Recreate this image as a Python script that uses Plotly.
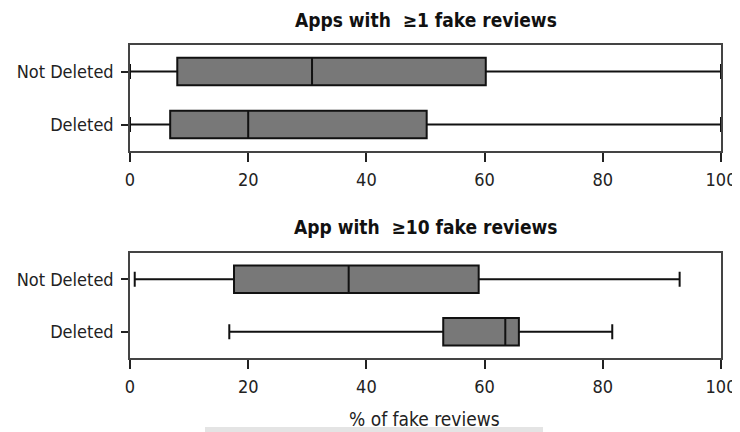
import plotly.graph_objects as go

categories = ["Not Deleted", "Deleted"]

# Panel 1: apps with >=1 fake reviews (percent of fake reviews)
p1_lower = [0, 0]
p1_q1 = [8, 6.8]
p1_median = [30.8, 20]
p1_q3 = [60.2, 50.2]
p1_upper = [100, 100]

# Panel 2: apps with >=10 fake reviews
p2_lower = [0.8, 16.8]
p2_q1 = [17.6, 53]
p2_median = [37, 63.5]
p2_q3 = [59, 65.8]
p2_upper = [93, 81.6]

x_ticks = [0, 20, 40, 60, 80, 100]

titles = ["Apps with  \u22651 fake reviews", "App with  \u226510 fake reviews"]
x_title = "% of fake reviews"

FONT = "DejaVu Sans Condensed, Liberation Sans Narrow, DejaVu Sans"
fill = "#787878"

fig = go.Figure()

def add_panel(lower, q1, med, q3, upper, xa, ya):
    fig.add_trace(go.Box(
        y=categories, lowerfence=lower, q1=q1, median=med, q3=q3, upperfence=upper,
        orientation="h", fillcolor=fill, line=dict(color="#111111", width=2),
        width=0.52, whiskerwidth=0.55, boxpoints=False, showlegend=False,
        xaxis=xa, yaxis=ya, hoverinfo="skip"))

add_panel(p1_lower, p1_q1, p1_median, p1_q3, p1_upper, "x", "y")
add_panel(p2_lower, p2_q1, p2_median, p2_q3, p2_upper, "x2", "y2")

# page has an 8px body margin, so figure coords = screen coords - 8
OFF = 8
H = 432.0
def py(screen_y):
    return 1 - (screen_y - OFF) / H

ax_common = dict(range=[0, 100], tickvals=x_ticks, ticks="outside", ticklen=9,
                 tickwidth=1.5, tickcolor="#222", showline=True, mirror=True,
                 linecolor="#444", linewidth=1.5, showgrid=False, zeroline=False,
                 ticklabelstandoff=3,
                 tickfont=dict(family=FONT, size=18, color="#222"), automargin=False)
ay_common = dict(type="category", categoryorder="array", categoryarray=categories[::-1],
                 range=[-0.5, 1.5], ticks="outside", ticklen=7, tickwidth=1.5,
                 tickcolor="#222", showline=True, mirror=True, linecolor="#444",
                 linewidth=1.5, showgrid=False, zeroline=False,
                 ticklabelstandoff=4,
                 tickfont=dict(family=FONT, size=18, color="#222"), automargin=False)

L, R = 130 - OFF, 740 + OFF - 721
fig.update_layout(
    width=740, height=432,
    margin=dict(l=L, r=R, t=0, b=0),
    plot_bgcolor="white", paper_bgcolor="white",
    xaxis=dict(ax_common, domain=[0, 1], anchor="y"),
    yaxis=dict(ay_common, domain=[py(151), py(45)], anchor="x"),
    xaxis2=dict(ax_common, domain=[0, 1], anchor="y2"),
    yaxis2=dict(ay_common, domain=[py(358), py(253)], anchor="x2"),
    shapes=[dict(type="rect", xref="paper", yref="paper",
                 x0=(205 - OFF - L) / 591, x1=(543 - OFF - L) / 591,
                 y0=0, y1=py(427), fillcolor="#e4e4e4", line=dict(width=0),
                 layer="below")],
    annotations=[
        dict(text="<b>%s</b>" % titles[0], x=0.5, y=py(20), xref="paper", yref="paper",
             showarrow=False, font=dict(family=FONT, size=19, color="#111"), yanchor="middle"),
        dict(text="<b>%s</b>" % titles[1], x=0.5, y=py(227), xref="paper", yref="paper",
             showarrow=False, font=dict(family=FONT, size=19, color="#111"), yanchor="middle"),
        dict(text=x_title, x=(424 - OFF - L) / 591, y=py(419), xref="paper", yref="paper",
             showarrow=False, font=dict(family=FONT, size=19, color="#222"), yanchor="middle"),
    ],
)

fig.write_html("out.html")
